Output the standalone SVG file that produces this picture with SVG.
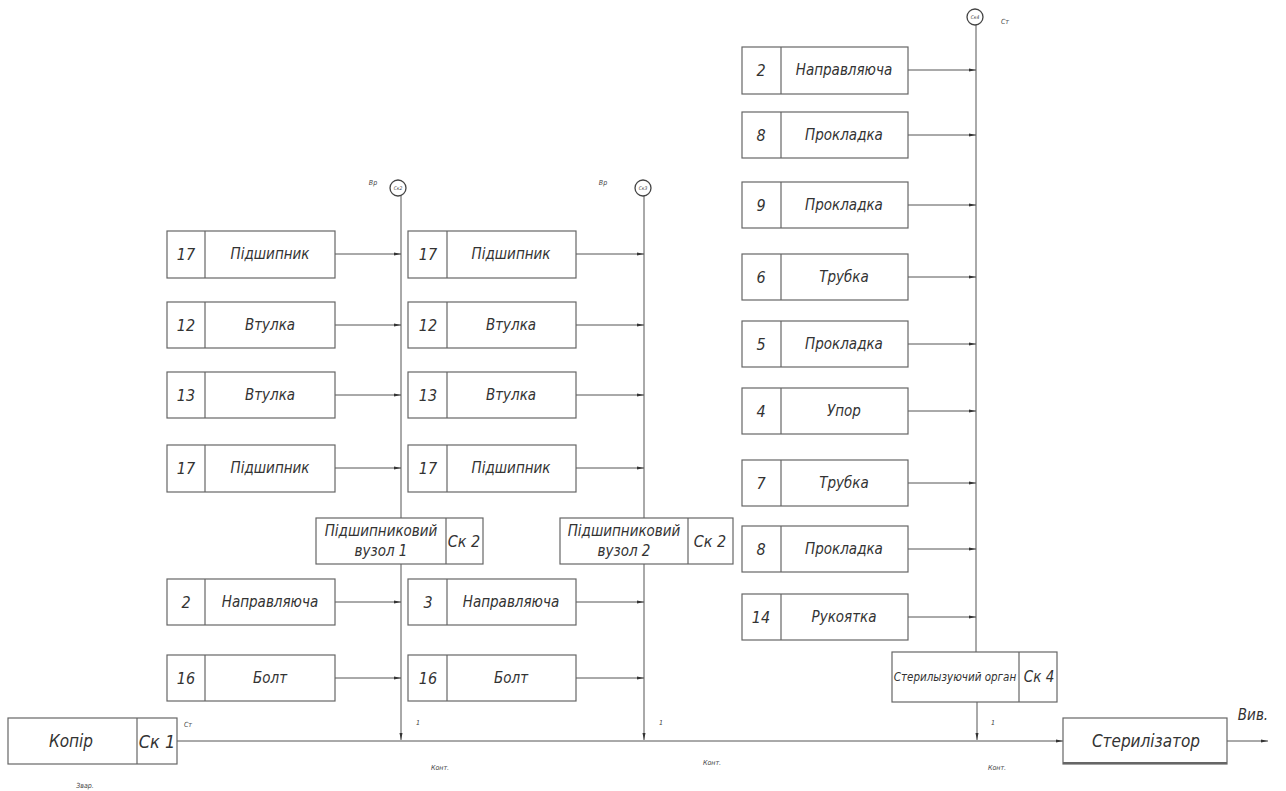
<svg xmlns="http://www.w3.org/2000/svg" width="1286" height="791" viewBox="0 0 1286 791">
<style>
.b{fill:#fff;stroke:#666;stroke-width:1.2}
.d{stroke:#666;stroke-width:1.2}
.l{fill:none;stroke:#555;stroke-width:1}
.t{font-family:"DejaVu Sans Condensed","DejaVu Sans",sans-serif;font-style:italic;font-size:15px;fill:#333;text-anchor:middle;dominant-baseline:central}
.n{font-size:16px}
.s{font-family:"DejaVu Sans Condensed","DejaVu Sans",sans-serif;font-style:italic;font-size:7px;fill:#444;text-anchor:middle;dominant-baseline:central}
.c{fill:#fff;stroke:#444;stroke-width:1.3}
</style>
<defs>
<marker id="a" markerWidth="7" markerHeight="4" refX="7" refY="2" orient="auto" markerUnits="userSpaceOnUse"><path d="M0,0.5 L7,2 L0,3.5 Z" fill="#333"/></marker>
</defs>
<g id="connectors">
<line class="l" x1="401" y1="196" x2="401" y2="740" marker-end="url(#a)"/>
<line class="l" x1="644" y1="196" x2="644" y2="740" marker-end="url(#a)"/>
<line class="l" x1="976" y1="25" x2="976" y2="652"/>
<line class="l" x1="977" y1="702" x2="977" y2="740" marker-end="url(#a)"/>
<line class="l" x1="177" y1="741" x2="1063" y2="741" marker-end="url(#a)"/>
<line class="l" x1="1227" y1="741" x2="1268" y2="741" marker-end="url(#a)"/>
<line class="l" x1="335" y1="254" x2="401" y2="254" marker-end="url(#a)"/>
<line class="l" x1="335" y1="325" x2="401" y2="325" marker-end="url(#a)"/>
<line class="l" x1="335" y1="395" x2="401" y2="395" marker-end="url(#a)"/>
<line class="l" x1="335" y1="468" x2="401" y2="468" marker-end="url(#a)"/>
<line class="l" x1="335" y1="602" x2="401" y2="602" marker-end="url(#a)"/>
<line class="l" x1="335" y1="678" x2="401" y2="678" marker-end="url(#a)"/>
<line class="l" x1="576" y1="254" x2="644" y2="254" marker-end="url(#a)"/>
<line class="l" x1="576" y1="325" x2="644" y2="325" marker-end="url(#a)"/>
<line class="l" x1="576" y1="395" x2="644" y2="395" marker-end="url(#a)"/>
<line class="l" x1="576" y1="468" x2="644" y2="468" marker-end="url(#a)"/>
<line class="l" x1="576" y1="602" x2="644" y2="602" marker-end="url(#a)"/>
<line class="l" x1="576" y1="678" x2="644" y2="678" marker-end="url(#a)"/>
<line class="l" x1="908" y1="70" x2="976" y2="70" marker-end="url(#a)"/>
<line class="l" x1="908" y1="135" x2="976" y2="135" marker-end="url(#a)"/>
<line class="l" x1="908" y1="205" x2="976" y2="205" marker-end="url(#a)"/>
<line class="l" x1="908" y1="277" x2="976" y2="277" marker-end="url(#a)"/>
<line class="l" x1="908" y1="344" x2="976" y2="344" marker-end="url(#a)"/>
<line class="l" x1="908" y1="411" x2="976" y2="411" marker-end="url(#a)"/>
<line class="l" x1="908" y1="483" x2="976" y2="483" marker-end="url(#a)"/>
<line class="l" x1="908" y1="549" x2="976" y2="549" marker-end="url(#a)"/>
<line class="l" x1="908" y1="617" x2="976" y2="617" marker-end="url(#a)"/>
</g>
<g id="labels">
<text class="s" x="373" y="183">Вр</text>
<text class="s" x="603" y="183">Вр</text>
<text class="s" x="1005" y="22">Ст</text>
<text class="s" x="188" y="725">Ст</text>
<text class="s" x="85" y="786">Звар.</text>
<text class="s" x="418" y="723">1</text>
<text class="s" x="661" y="723">1</text>
<text class="s" x="993" y="723">1</text>
<text class="s" x="440" y="768">Конт.</text>
<text class="s" x="712" y="763">Конт.</text>
<text class="s" x="997" y="768">Конт.</text>
<text class="t" x="1253" y="715">Вив.</text>
</g>
<g id="c2"><circle class="c" cx="398" cy="188" r="8"/><text class="s" x="398" y="188" style="font-size:5px">Ск2</text></g>
<g id="c3"><circle class="c" cx="643" cy="188" r="8"/><text class="s" x="643" y="188" style="font-size:5px">Ск3</text></g>
<g id="c4"><circle class="c" cx="975" cy="17" r="8"/><text class="s" x="975" y="17" style="font-size:5px">Ск4</text></g>
<g id="l1"><rect class="b" x="167" y="231" width="168" height="47"/><line class="d" x1="205" y1="231" x2="205" y2="278"/><text class="t n" x="186" y="254">17</text><text class="t" x="270" y="254">Підшипник</text></g>
<g id="l2"><rect class="b" x="167" y="302" width="168" height="46"/><line class="d" x1="205" y1="302" x2="205" y2="348"/><text class="t n" x="186" y="325">12</text><text class="t" x="270" y="325">Втулка</text></g>
<g id="l3"><rect class="b" x="167" y="372" width="168" height="46"/><line class="d" x1="205" y1="372" x2="205" y2="418"/><text class="t n" x="186" y="395">13</text><text class="t" x="270" y="395">Втулка</text></g>
<g id="l4"><rect class="b" x="167" y="445" width="168" height="47"/><line class="d" x1="205" y1="445" x2="205" y2="492"/><text class="t n" x="186" y="468">17</text><text class="t" x="270" y="468">Підшипник</text></g>
<g id="l5"><rect class="b" x="167" y="579" width="168" height="46"/><line class="d" x1="205" y1="579" x2="205" y2="625"/><text class="t n" x="186" y="602">2</text><text class="t" x="270" y="602">Направляюча</text></g>
<g id="l6"><rect class="b" x="167" y="655" width="168" height="46"/><line class="d" x1="205" y1="655" x2="205" y2="701"/><text class="t n" x="186" y="678">16</text><text class="t" x="270" y="678">Болт</text></g>
<g id="m1"><rect class="b" x="408" y="231" width="168" height="47"/><line class="d" x1="447" y1="231" x2="447" y2="278"/><text class="t n" x="428" y="254">17</text><text class="t" x="511" y="254">Підшипник</text></g>
<g id="m2"><rect class="b" x="408" y="302" width="168" height="46"/><line class="d" x1="447" y1="302" x2="447" y2="348"/><text class="t n" x="428" y="325">12</text><text class="t" x="511" y="325">Втулка</text></g>
<g id="m3"><rect class="b" x="408" y="372" width="168" height="46"/><line class="d" x1="447" y1="372" x2="447" y2="418"/><text class="t n" x="428" y="395">13</text><text class="t" x="511" y="395">Втулка</text></g>
<g id="m4"><rect class="b" x="408" y="445" width="168" height="47"/><line class="d" x1="447" y1="445" x2="447" y2="492"/><text class="t n" x="428" y="468">17</text><text class="t" x="511" y="468">Підшипник</text></g>
<g id="m5"><rect class="b" x="408" y="579" width="168" height="46"/><line class="d" x1="447" y1="579" x2="447" y2="625"/><text class="t n" x="428" y="602">3</text><text class="t" x="511" y="602">Направляюча</text></g>
<g id="m6"><rect class="b" x="408" y="655" width="168" height="46"/><line class="d" x1="447" y1="655" x2="447" y2="701"/><text class="t n" x="428" y="678">16</text><text class="t" x="511" y="678">Болт</text></g>
<g id="pv1"><rect class="b" x="316" y="518" width="167" height="46"/><line class="d" x1="446" y1="518" x2="446" y2="564"/><text class="t" x="381" y="531">Підшипниковий</text><text class="t" x="381" y="551">вузол 1</text><text class="t n" x="464" y="541">Ск 2</text></g>
<g id="pv2"><rect class="b" x="560" y="518" width="173" height="46"/><line class="d" x1="688" y1="518" x2="688" y2="564"/><text class="t" x="624" y="531">Підшипниковий</text><text class="t" x="624" y="551">вузол 2</text><text class="t n" x="710" y="541">Ск 2</text></g>
<g id="r1"><rect class="b" x="742" y="47" width="166" height="47"/><line class="d" x1="781" y1="47" x2="781" y2="94"/><text class="t n" x="761" y="70">2</text><text class="t" x="844" y="70">Направляюча</text></g>
<g id="r2"><rect class="b" x="742" y="112" width="166" height="46"/><line class="d" x1="781" y1="112" x2="781" y2="158"/><text class="t n" x="761" y="135">8</text><text class="t" x="844" y="135">Прокладка</text></g>
<g id="r3"><rect class="b" x="742" y="182" width="166" height="46"/><line class="d" x1="781" y1="182" x2="781" y2="228"/><text class="t n" x="761" y="205">9</text><text class="t" x="844" y="205">Прокладка</text></g>
<g id="r4"><rect class="b" x="742" y="254" width="166" height="46"/><line class="d" x1="781" y1="254" x2="781" y2="300"/><text class="t n" x="761" y="277">6</text><text class="t" x="844" y="277">Трубка</text></g>
<g id="r5"><rect class="b" x="742" y="321" width="166" height="46"/><line class="d" x1="781" y1="321" x2="781" y2="367"/><text class="t n" x="761" y="344">5</text><text class="t" x="844" y="344">Прокладка</text></g>
<g id="r6"><rect class="b" x="742" y="388" width="166" height="46"/><line class="d" x1="781" y1="388" x2="781" y2="434"/><text class="t n" x="761" y="411">4</text><text class="t" x="844" y="411">Упор</text></g>
<g id="r7"><rect class="b" x="742" y="460" width="166" height="46"/><line class="d" x1="781" y1="460" x2="781" y2="506"/><text class="t n" x="761" y="483">7</text><text class="t" x="844" y="483">Трубка</text></g>
<g id="r8"><rect class="b" x="742" y="526" width="166" height="46"/><line class="d" x1="781" y1="526" x2="781" y2="572"/><text class="t n" x="761" y="549">8</text><text class="t" x="844" y="549">Прокладка</text></g>
<g id="r9"><rect class="b" x="742" y="594" width="166" height="46"/><line class="d" x1="781" y1="594" x2="781" y2="640"/><text class="t n" x="761" y="617">14</text><text class="t" x="844" y="617">Рукоятка</text></g>
<g id="so"><rect class="b" x="892" y="652" width="165" height="50"/><line class="d" x1="1019" y1="652" x2="1019" y2="702"/><text class="t" x="955" y="677" style="font-size:11.5px">Стерилызуючий орган</text><text class="t" x="1039" y="677">Ск 4</text></g>
<g id="kopir"><rect class="b" x="8" y="718" width="169" height="46"/><line class="d" x1="137" y1="718" x2="137" y2="764"/><text class="t" x="71" y="741" style="font-size:17px">Копір</text><text class="t" x="157" y="741" style="font-size:18px">Ск 1</text></g>
<g id="steril"><rect class="b" x="1063" y="718" width="164" height="46"/><line class="d" x1="1063" y1="763" x2="1227" y2="763" style="stroke-width:2"/><text class="t" x="1146" y="741" style="font-size:17px">Стерилізатор</text></g>
</svg>
